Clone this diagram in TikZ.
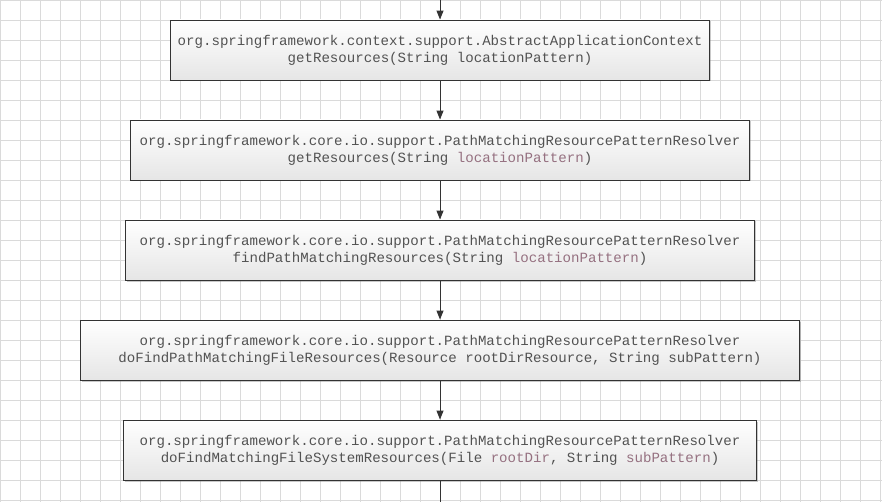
\documentclass[tikz,border=0pt]{standalone}
\usepackage{fontspec}
\setmonofont{Liberation Mono}
\usetikzlibrary{arrows.meta,shadows}
\definecolor{gridc}{HTML}{DADADA}
\definecolor{linec}{HTML}{333333}
\definecolor{txtc}{HTML}{525252}
\definecolor{argc}{HTML}{957080}
\newcommand{\argname}[1]{\textcolor{argc}{#1}}
\tikzset{
  box/.style={draw=linec, line width=0.9pt, rectangle, minimum height=60pt,
    top color=white, bottom color=black!10, align=center, text=txtc,
    font=\fontsize{14.1}{17}\selectfont\ttfamily,
    drop shadow={shadow xshift=1.5pt, shadow yshift=-1.5pt, opacity=0.35, fill=black!60}},
  arr/.style={draw=linec, line width=1pt, -{Triangle[length=9pt,width=7pt]}},
  plain/.style={draw=linec, line width=1pt}
}
\begin{document}
\begin{tikzpicture}[x=1pt,y=-1pt]
\useasboundingbox (0,0) rectangle (882,502);
\fill[white] (0,0) rectangle (882,502);
\foreach \i in {0,20,...,880} \draw[gridc, line width=0.8pt] (\i+0.5,0) -- (\i+0.5,502);
\foreach \j in {0,20,...,500} \draw[gridc, line width=0.8pt] (0,\j+0.5) -- (882,\j+0.5);
\coordinate (top) at (440,0);
\coordinate (bot) at (440,502);
\node[box, minimum width=539pt] (b1) at (440,50) {org.springframework.context.support.AbstractApplicationContext\\getResources(String locationPattern)};
\node[box, minimum width=619pt] (b2) at (440,150) {org.springframework.core.io.support.PathMatchingResourcePatternResolver\\getResources(String \argname{locationPattern})};
\node[box, minimum width=629pt] (b3) at (440,250) {org.springframework.core.io.support.PathMatchingResourcePatternResolver\\findPathMatchingResources(String \argname{locationPattern})};
\node[box, minimum width=719pt] (b4) at (440,350) {org.springframework.core.io.support.PathMatchingResourcePatternResolver\\doFindPathMatchingFileResources(Resource rootDirResource, String subPattern)};
\node[box, minimum width=633pt] (b5) at (440,450) {org.springframework.core.io.support.PathMatchingResourcePatternResolver\\doFindMatchingFileSystemResources(File \argname{rootDir}, String \argname{subPattern})};
\draw[arr] (top) -- (b1);
\draw[arr] (b1) -- (b2);
\draw[arr] (b2) -- (b3);
\draw[arr] (b3) -- (b4);
\draw[arr] (b4) -- (b5);
\draw[plain] (b5) -- (bot);
\end{tikzpicture}
\end{document}
